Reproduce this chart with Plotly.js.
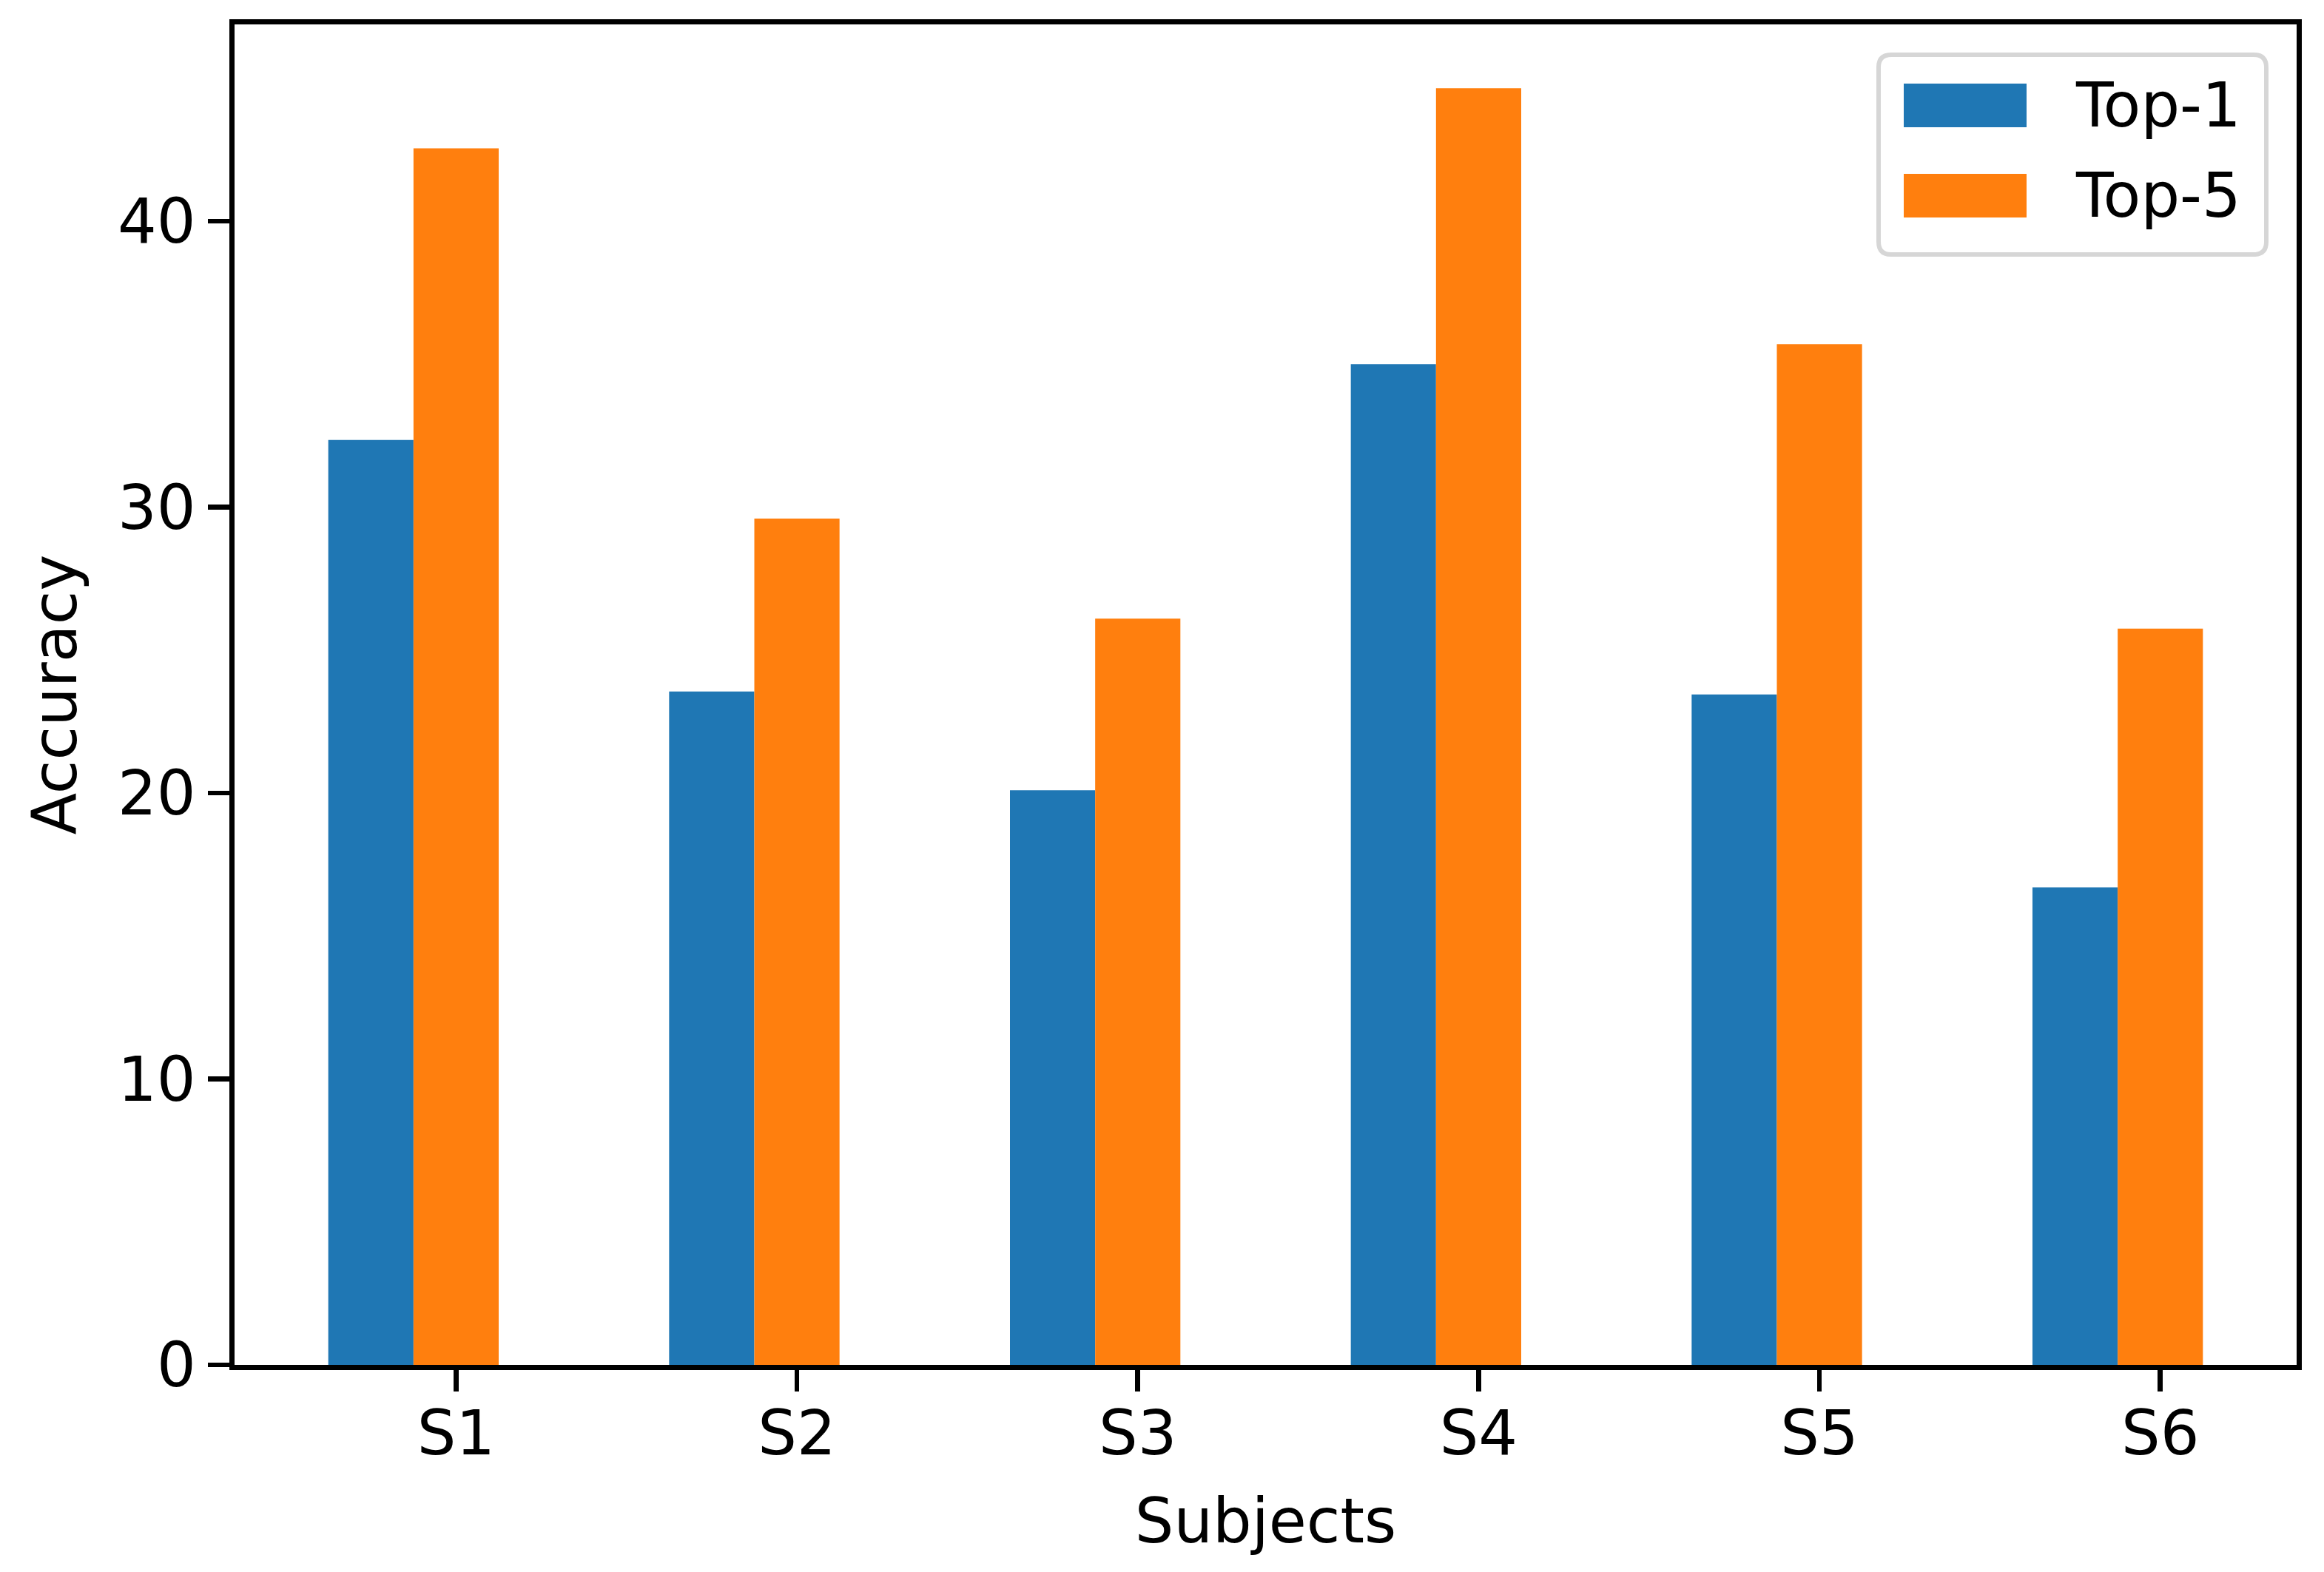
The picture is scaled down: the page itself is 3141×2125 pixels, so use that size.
<!DOCTYPE html>
<html>
<head>
<meta charset="utf-8">
<script src="https://cdn.plot.ly/plotly-3.0.1.min.js"></script>
<style>html,body{margin:0;padding:0;background:#fff;}#chart{width:3141px;height:2125px;}</style>
</head>
<body>
<div id="chart"></div>
<script>
const subjects = ["S1", "S2", "S3", "S4", "S5", "S6"];
const seriesNames = ["Top-1", "Top-5"];
const top1 = [32.35, 23.55, 20.1, 35.0, 23.45, 16.7];
const top5 = [42.55, 29.6, 26.1, 44.65, 35.7, 25.75];
const yTicks = [0, 10, 20, 30, 40];

const colors = ["#1f77b4", "#ff7f0e"];
const W = 3141, H = 2125;
const L = 317, R = 3104, T = 33, B = 1845;
const pw = R - L, ph = B - T;
const px = v => (v - L) / pw;
const py = v => (B - v) / ph;
const font = {family: "DejaVu Sans", size: 83, color: "#000"};
const lw = 6.7;

const traces = [
  {type: "bar", name: seriesNames[0], x: subjects, y: top1, width: 0.25, offset: -0.375,
   marker: {color: colors[0], line: {width: 0}}, showlegend: false},
  {type: "bar", name: seriesNames[1], x: subjects, y: top5, width: 0.25, offset: -0.125,
   marker: {color: colors[1], line: {width: 0}}, showlegend: false}
];

const ymax = Math.max(...top1, ...top5) * 1.05;

// custom matplotlib-style legend
function roundRect(x0, y0, x1, y1, r) {
  const rx = r / pw, ry = r / ph;
  const X0 = px(x0), X1 = px(x1), Y0 = py(y0), Y1 = py(y1);
  return `M ${X0 + rx},${Y0} L ${X1 - rx},${Y0} Q ${X1},${Y0} ${X1},${Y0 - ry} ` +
         `L ${X1},${Y1 + ry} Q ${X1},${Y1} ${X1 - rx},${Y1} L ${X0 + rx},${Y1} ` +
         `Q ${X0},${Y1} ${X0},${Y1 + ry} L ${X0},${Y0 - ry} Q ${X0},${Y0} ${X0 + rx},${Y0} Z`;
}
const shapes = [
  {type: "path", xref: "paper", yref: "paper", path: roundRect(2539, 74, 3063, 344, 17),
   fillcolor: "rgba(255,255,255,0.8)", line: {color: "rgba(204,204,204,0.8)", width: 6}, layer: "above"}
];
const annotations = [];
const rowCenters = [142.5, 264.5];
seriesNames.forEach((n, i) => {
  const c = rowCenters[i];
  shapes.push({type: "rect", xref: "paper", yref: "paper",
    x0: px(2573), x1: px(2739), y0: py(c - 29.5), y1: py(c + 29.5),
    fillcolor: colors[i], line: {width: 0}, layer: "above"});
  annotations.push({xref: "paper", yref: "paper", x: px(2803), y: py(c), text: n,
    showarrow: false, xanchor: "left", yanchor: "middle", font: font});
});

const layout = {
  width: W, height: H,
  margin: {l: L, r: W - R, t: T, b: H - B, pad: 0},
  paper_bgcolor: "#fff", plot_bgcolor: "#fff",
  font: font,
  barmode: "overlay",
  xaxis: {
    type: "category", range: [-0.65, 5.4], autorange: false,
    showgrid: false, zeroline: false,
    showline: true, linecolor: "#000", linewidth: lw, mirror: true,
    ticks: "outside", ticklen: 29, tickwidth: lw, tickcolor: "#000",
    tickfont: font, ticklabelstandoff: -14,
    title: {text: "Subjects", font: font, standoff: 44}
  },
  yaxis: {
    range: [0, ymax], autorange: false,
    tickvals: yTicks, ticktext: yTicks.map(String),
    showgrid: false, zeroline: false,
    showline: true, linecolor: "#000", linewidth: lw, mirror: true,
    ticks: "outside", ticklen: 29, tickwidth: lw, tickcolor: "#000",
    tickfont: font,
    title: {text: "Accuracy", font: font, standoff: 30}
  },
  shapes: shapes,
  annotations: annotations,
  showlegend: false
};

Plotly.newPlot("chart", traces, layout, {displayModeBar: false, staticPlot: true});
</script>
</body>
</html>
